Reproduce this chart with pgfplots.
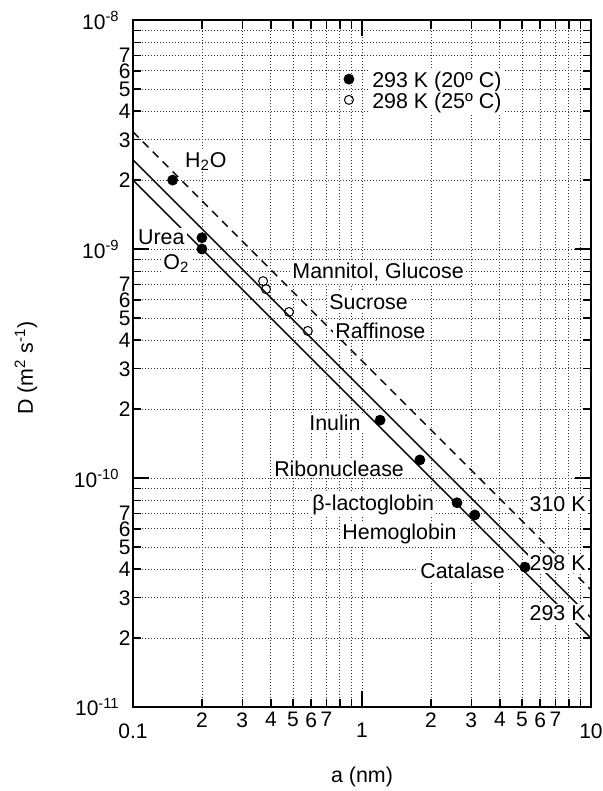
\documentclass[border=0pt]{standalone}
\usepackage{fontspec}
\setmainfont{Liberation Sans}
\usepackage{pgfplots}
\pgfplotsset{compat=1.18}
\usetikzlibrary{calc}

\newcommand{\lblfont}{\fontsize{10.7bp}{12bp}\selectfont}
\newcommand{\smallfont}{\fontsize{7.3bp}{8bp}\selectfont}
\tikzset{lbl/.style={fill=white, inner sep=1bp, font=\lblfont}}

\begin{document}
\begin{tikzpicture}
\begin{axis}[
  xmode=log, ymode=log,
  scale only axis,
  width=229bp, height=343.5bp,
  xmin=0.1, xmax=10, ymin=1e-11, ymax=1e-8,
  axis line style={line width=1bp},
  tick align=inside,
  xtick={0.1,1,10},
  xticklabels={0.1,1,10},
  ytick={1e-11,1e-10,1e-9,1e-8},
  yticklabels={\raisebox{-1.5bp}{10\textsuperscript{-11}},
               \raisebox{-1.5bp}{10\textsuperscript{-10}},
               \raisebox{-1.5bp}{10\textsuperscript{-9}},
               \raisebox{-1.5bp}{10\textsuperscript{-8}}},
  minor xtick={0.2,0.3,0.4,0.5,0.6,0.7,0.8,0.9,2,3,4,5,6,7,8,9},
  minor ytick={2e-11,3e-11,4e-11,5e-11,6e-11,7e-11,8e-11,9e-11,
               2e-10,3e-10,4e-10,5e-10,6e-10,7e-10,8e-10,9e-10,
               2e-9,3e-9,4e-9,5e-9,6e-9,7e-9,8e-9,9e-9},
  grid=both,
  major grid style={black!80, line width=0.4bp, dash pattern=on 0.6bp off 0.9bp},
  minor grid style={black!80, line width=0.4bp, dash pattern=on 0.6bp off 0.9bp},
  major tick length=8bp, minor tick length=4.25bp,
  major tick style={line width=1bp, black},
  minor tick style={line width=0.7bp, black},
  xticklabel style={font=\fontsize{10.5bp}{12bp}\selectfont, inner sep=0pt},
  yticklabel style={font=\fontsize{10.5bp}{12bp}\selectfont, inner sep=0pt},
  xticklabel shift=8bp,
  yticklabel shift=6.5bp,
  extra x ticks={0.2,0.3,0.4,0.5,0.6,0.7,2,3,4,5,6,7},
  extra x tick labels={2,3,4,5,6,7,2,3,4,5,6,7},
  extra x tick style={grid=none, major tick length=0pt,
    xticklabel shift=2.5bp, tick label style={font=\smallfont}},
  extra y ticks={2e-11,3e-11,4e-11,5e-11,6e-11,7e-11,
                 2e-10,3e-10,4e-10,5e-10,6e-10,7e-10,
                 2e-9,3e-9,4e-9,5e-9,6e-9,7e-9},
  extra y tick labels={2,3,4,5,6,7,2,3,4,5,6,7,2,3,4,5,6,7},
  extra y tick style={grid=none, major tick length=0pt,
    yticklabel shift=1bp, tick label style={font=\smallfont}},
  xlabel={a (nm)},
  ylabel={D (m\textsuperscript{2} s\textsuperscript{-1})},
  xlabel style={at={(axis description cs:0.5,-0.1019)}, anchor=center, font=\lblfont},
  ylabel style={at={(axis description cs:-0.2336,0.4934)}, anchor=center, font=\lblfont},
]
% Stokes-Einstein lines
\addplot[black, line width=0.7bp] coordinates {(0.1,2e-9) (10,2e-11)};
\addplot[black, line width=0.7bp] coordinates {(0.1,2.45e-9) (10,2.45e-11)};
\addplot[black, line width=0.7bp, dash pattern=on 4bp off 3bp] coordinates {(0.1,3.25e-9) (10,3.25e-11)};

% labels
\node[lbl, anchor=base west] at (axis cs:0.165,2.28e-9) {H\textsubscript{2}O};
\node[lbl, anchor=base east] at (axis cs:0.172,1.045e-9) {Urea};
\node[lbl, anchor=base west] at (axis cs:0.1325,8.13e-10) {O\textsubscript{2}};
\node[lbl, anchor=base west] at (axis cs:0.485,7.40e-10) {Mannitol, Glucose};
\node[lbl, anchor=base west] at (axis cs:0.703,5.47e-10) {Sucrose};
\node[lbl, anchor=base west] at (axis cs:0.747,4.08e-10) {Raffinose};
\node[lbl, anchor=base west] at (axis cs:0.575,1.61e-10) {Inulin};
\node[lbl, anchor=base west] at (axis cs:0.404,1.02e-10) {Ribonuclease};
\node[lbl, anchor=base west] at (axis cs:0.593,7.19e-11) {β-lactoglobin};
\node[lbl, anchor=base west] at (axis cs:0.802,5.38e-11) {Hemoglobin};
\node[lbl, anchor=base west] at (axis cs:1.756,3.63e-11) {Catalase};
\node[lbl, anchor=base east] at (axis cs:9.7,7.13e-11) {310 K};
\node[lbl, anchor=base east] at (axis cs:9.7,3.94e-11) {298 K};
\node[lbl, anchor=base east] at (axis cs:9.7,2.38e-11) {293 K};
\node[lbl, anchor=base west] at (axis cs:1.083,5.06e-9) {293 K (20º C)};
\node[lbl, anchor=base west] at (axis cs:1.083,4.10e-9) {298 K (25º C)};

% 293 K data (filled) and legend marker
\addplot[only marks, mark=*, mark size=2.5bp, black] coordinates {
  (0.149,2.0e-9) (0.2,1.12e-9) (0.2,1.0e-9) (1.2,1.79e-10) (1.79,1.2e-10)
  (2.6,7.8e-11) (3.11,6.9e-11) (5.15,4.08e-11) (0.877,5.52e-9)
};
% 298 K data (open) and legend marker
\addplot[only marks, mark=o, mark size=2.25bp, black, mark options={fill=white, line width=0.5bp}] coordinates {
  (0.37,7.24e-10) (0.381,6.68e-10) (0.48,5.31e-10) (0.58,4.39e-10) (0.877,4.48e-9)
};
\end{axis}
\pgfresetboundingbox
\path[use as bounding box] ($(current axis.south west)+(-66.5bp,-42bp)$) rectangle ($(current axis.north east)+(6bp,10bp)$);
\end{tikzpicture}
\end{document}
